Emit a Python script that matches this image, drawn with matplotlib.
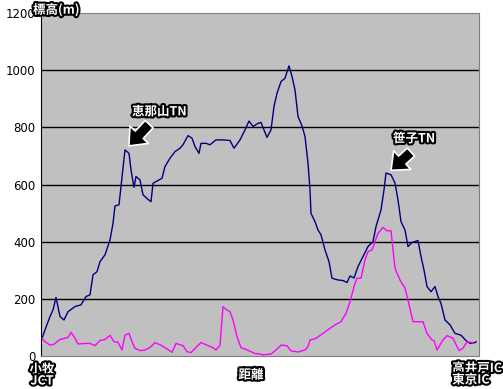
import matplotlib
matplotlib.use("Agg")
import matplotlib.pyplot as plt
import matplotlib.patheffects as pe

plt.rcParams['font.family'] = ['Noto Sans CJK JP', 'DejaVu Sans']

# distance (arbitrary units along route) and elevation (m)
dist_a = [1, 4, 9, 12, 15, 19, 23, 27, 34, 40, 45, 49, 52, 56, 59, 64, 69, 72, 74, 78,
          80, 84, 88, 90, 93, 95, 99, 102, 107, 110, 112, 115, 121, 124, 129, 134, 139, 142,
          147, 151, 154, 158, 160, 165, 169, 175, 182, 189, 193, 199, 204, 208, 212, 217,
          220, 226, 230, 233, 236, 240, 244, 248, 251, 254, 257, 261, 264, 267, 269, 270,
          274, 277, 280, 284, 288, 291, 297, 302, 306, 309, 313, 317, 322, 327, 332, 335,
          340, 343, 345, 350, 354, 357, 360, 364, 367, 371, 377, 380, 383, 386, 390, 394,
          397, 400, 404, 409, 414, 420, 425, 429, 434, 435]
elev_a = [62, 91, 138, 161, 205, 138, 126, 155, 173, 179, 208, 214, 284, 295, 330, 354, 406,
          464, 525, 529, 593, 721, 709, 651, 590, 628, 616, 564, 548, 540, 604, 610, 622, 663,
          692, 715, 727, 739, 771, 762, 733, 709, 744, 744, 739, 756, 756, 754, 727, 756, 791,
          822, 803, 814, 817, 765, 791, 873, 919, 960, 972, 1015, 978, 931, 838, 805, 768, 675,
          581, 499, 470, 441, 424, 371, 330, 272, 266, 264, 257, 280, 273, 313, 348, 383, 400,
          453, 511, 581, 640, 634, 605, 546, 470, 441, 383, 397, 404, 348, 301, 243, 225, 243,
          208, 184, 126, 109, 79, 73, 54, 44, 47, 50]

dist_b = [1, 4, 9, 13, 19, 24, 27, 30, 34, 37, 44, 49, 54, 59, 64, 69, 73, 77, 81, 84, 88,
          91, 94, 99, 104, 109, 114, 120, 125, 131, 135, 142, 146, 150, 155, 160, 166, 172,
          175, 179, 182, 185, 189, 192, 196, 200, 205, 210, 214, 219, 222, 230, 235, 240, 246,
          250, 257, 264, 267, 269, 275, 282, 289, 294, 300, 305, 309, 314, 316, 320, 324, 327,
          331, 337, 342, 346, 350, 354, 359, 364, 367, 372, 382, 386, 391, 393, 396, 402, 406,
          412, 418, 422, 426, 429, 432]
elev_b = [62, 50, 38, 41, 58, 62, 65, 83, 62, 42, 44, 44, 36, 54, 58, 72, 50, 48, 21, 73, 79,
          50, 27, 19, 21, 30, 47, 38, 27, 13, 44, 36, 15, 12, 30, 47, 38, 29, 21, 38, 173, 163,
          155, 126, 68, 29, 23, 15, 9, 7, 4, 7, 21, 38, 36, 18, 14, 21, 33, 56, 62, 79, 97, 109,
          120, 149, 190, 254, 272, 272, 336, 365, 371, 429, 450, 438, 438, 307, 266, 237, 196,
          120, 120, 79, 56, 54, 21, 56, 71, 62, 19, 27, 50, 48, 47]

y_ticks = [0, 200, 400, 600, 800, 1000, 1200]

fig = plt.figure(figsize=(5.03, 3.89), dpi=100)
ax = fig.add_axes([41 / 503, 33 / 389, 438 / 503, 343 / 389])
ax.set_facecolor('#C0C0C0')
ax.set_xlim(0, 438)
ax.set_ylim(0, 1200)
ax.set_yticks(y_ticks)
ax.set_yticklabels([str(v) for v in y_ticks], fontsize=8.5, family='DejaVu Sans')
ax.set_xticks([])
ax.tick_params(axis='y', length=0, pad=4)
for v in y_ticks[1:-1]:
    ax.axhline(v, color='black', lw=1.0, zorder=1)
for s in ['top', 'right']:
    ax.spines[s].set_color('#808080')
ax.spines['bottom'].set_color('#808080')
ax.spines['left'].set_color('black')

ax.plot(dist_a, elev_a, color='#000080', lw=1.0, zorder=3)
ax.plot(dist_b, elev_b, color='#FF00FF', lw=1.0, zorder=3)

outline = [pe.withStroke(linewidth=3, foreground='black')]
tkw = dict(color='white', fontweight='bold', fontsize=9, path_effects=outline)

fig.text(33 / 503, 1 - 10 / 389, '標高(m)', ha='left', va='center', **tkw)
ax.text(91, 854, '恵那山TN', ha='left', va='center', **tkw)
ax.text(352, 760, '笹子TN', ha='left', va='center', **tkw)

arw = dict(arrowstyle='simple,head_length=0.42,head_width=0.7,tail_width=0.3',
           fc='black', ec='white', lw=1.2, mutation_scale=26)
ax.annotate('', xy=(86, 728), xytext=(110, 818), arrowprops=arw, zorder=5)
ax.annotate('', xy=(348, 643), xytext=(372, 720), arrowprops=arw, zorder=5)

fig.text(42 / 503, 1 - 363 / 389, '小牧\nJCT', ha='center', va='top',
         linespacing=0.85, **tkw)
fig.text(251 / 503, 1 - 375 / 389, '距離', ha='center', va='center', **tkw)
fig.text(502 / 503, 1 - 362 / 389, '高井戸IC\n東京IC', ha='right', va='top',
         linespacing=0.85, multialignment='left', **tkw)

fig.savefig('out.png', dpi=100)
